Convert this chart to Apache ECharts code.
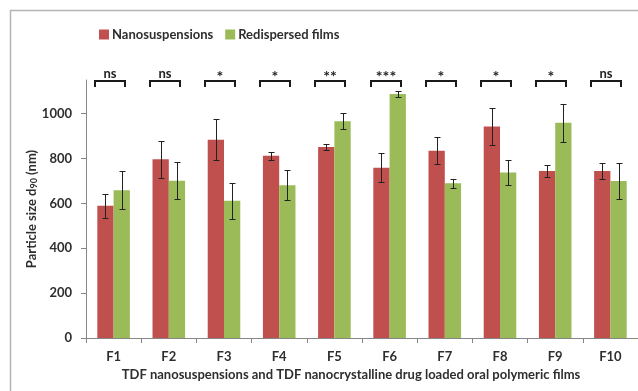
<!DOCTYPE html>
<html>
<head>
<meta charset="utf-8">
<script src="https://cdn.jsdelivr.net/npm/echarts@6/dist/echarts.min.js"></script>
<style>
  html, body { margin: 0; padding: 0; background: #fff; }
  #chart { width: 638px; height: 391px; }
</style>
</head>
<body>
<div id="chart"></div>
<script>
// Formulations
const categories = ['F1', 'F2', 'F3', 'F4', 'F5', 'F6', 'F7', 'F8', 'F9', 'F10'];
// Particle size d90 (nm), mean and SD
const nanoMean = [589, 797, 884, 812, 851, 759, 835, 943, 744, 744];
const nanoErr  = [52, 82, 90, 17, 13, 65, 60, 82, 26, 34];
const filmMean = [659, 701, 612, 681, 966, 1088, 690, 738, 960, 700];
const filmErr  = [85, 82, 80, 66, 35, 13, 20, 57, 85, 82];
// Significance between nanosuspension and redispersed film
const significance = ['ns', 'ns', '*', '*', '**', '***', '*', '*', '*', 'ns'];
// Value axis ticks
const yTicks = [0, 200, 400, 600, 800, 1000];
const yMax = 1150;

const FONT = 'Lato';
const TEXT = '#2e2e2e';
const RED = '#C0504D';
const GREEN = '#9BBB59';
const GAP = 0.41;

function errorBars(means, errs, side) {
  return {
    type: 'custom',
    silent: true,
    z: 5,
    data: means.map((m, i) => [i, m, errs[i]]),
    encode: { x: 0, y: 1 },
    renderItem: function (params, api) {
      const i = api.value(0);
      const band = api.size([1, 0])[0];
      const bw = band * (1 - GAP) / 2;
      const cx = Math.round(api.coord([i, 0])[0] + side * bw / 2) + 0.5;
      const top = Math.round(api.coord([i, api.value(1) + api.value(2)])[1]) + 0.5;
      const bot = Math.round(api.coord([i, api.value(1) - api.value(2)])[1]) + 0.5;
      const cap = 3;
      const st = { stroke: '#222', lineWidth: 1 };
      return {
        type: 'group',
        children: [
          { type: 'line', shape: { x1: cx, y1: top, x2: cx, y2: bot }, style: st },
          { type: 'line', shape: { x1: cx - cap, y1: top, x2: cx + cap, y2: top }, style: st },
          { type: 'line', shape: { x1: cx - cap, y1: bot, x2: cx + cap, y2: bot }, style: st }
        ]
      };
    }
  };
}

const chart = echarts.init(document.getElementById('chart'));
chart.setOption({
  animation: false,
  backgroundColor: '#fff',
  textStyle: { fontFamily: FONT },
  legend: {
    data: ['Nanosuspensions', 'Redispersed films'],
    left: 94,
    top: 23,
    itemWidth: 10,
    itemHeight: 10,
    itemGap: 12,
    icon: 'rect',
    textStyle: { fontFamily: FONT, fontWeight: 'bold', fontSize: 13, color: TEXT, padding: [0, 0, 0, -2] }
  },
  grid: { left: 86, right: -10, top: 80, bottom: 53, containLabel: false },
  xAxis: {
    type: 'category',
    data: categories,
    axisLine: { lineStyle: { color: '#868686', width: 1 } },
    axisTick: { show: true, length: 5, lineStyle: { color: '#868686' } },
    axisLabel: { fontFamily: FONT, fontWeight: 'bold', fontSize: 13, color: TEXT, margin: 12 }
  },
  yAxis: {
    type: 'value',
    min: 0,
    max: yMax,
    interval: 200,
    name: 'Particle size d{s|90} (nm)',
    nameLocation: 'middle',
    nameGap: 47,
    nameMoveOverlap: false,
    nameTextStyle: {
      fontFamily: FONT, fontWeight: 'bold', fontSize: 13, color: TEXT,
      rich: { s: { fontFamily: FONT, fontWeight: 'bold', fontSize: 9, color: TEXT, verticalAlign: 'bottom', padding: [6, 0, 0, 0] } }
    },
    axisLine: { show: true, lineStyle: { color: '#868686', width: 1 } },
    axisTick: { show: true, length: 5, lineStyle: { color: '#868686' }, customValues: yTicks },
    axisLabel: {
      fontFamily: FONT, fontWeight: 'bold', fontSize: 13, color: TEXT, margin: 14,
      customValues: yTicks, formatter: v => String(v)
    },
    splitLine: { show: false }
  },
  graphic: [
    {
      type: 'rect', silent: true, z: -1,
      shape: { x: 10.5, y: 10.5, width: 700, height: 500 },
      style: { fill: 'none', stroke: '#b4b4b4', lineWidth: 1.5 }
    },
    {
      type: 'text', silent: true,
      x: 351, y: 375,
      style: {
        text: 'TDF nanosuspensions and TDF nanocrystalline drug loaded oral polymeric films',
        fontFamily: FONT, fontWeight: 'bold', fontSize: 13, fill: TEXT,
        align: 'center', verticalAlign: 'middle'
      }
    }
  ],
  series: [
    {
      name: 'Nanosuspensions', type: 'bar', data: nanoMean,
      itemStyle: { color: RED }, barGap: '0%', barCategoryGap: (GAP * 100) + '%'
    },
    {
      name: 'Redispersed films', type: 'bar', data: filmMean,
      itemStyle: { color: GREEN }, barGap: '0%', barCategoryGap: (GAP * 100) + '%'
    },
    errorBars(nanoMean, nanoErr, -1),
    errorBars(filmMean, filmErr, 1),
    {
      // significance brackets above each pair
      type: 'custom',
      silent: true,
      z: 6,
      data: categories.map((c, i) => [i, yMax]),
      encode: { x: 0, y: 1 },
      renderItem: function (params, api) {
        const i = api.value(0);
        const p = api.coord([i, api.value(1)]);
        const cx = Math.round(p[0] - 4);
        const y = Math.round(p[1]) + 1;
        const half = 15;
        const drop = 6;
        const st = { stroke: '#1a1a1a', lineWidth: 2, fill: 'none' };
        const label = significance[params.dataIndex];
        const star = label.indexOf('*') >= 0;
        return {
          type: 'group',
          children: [
            { type: 'polyline', shape: { points: [[cx - half, y + drop], [cx - half, y], [cx + half, y], [cx + half, y + drop]] }, style: st },
            {
              type: 'text',
              x: cx, y: star ? y + 4 : y - 1,
              style: {
                text: label, fontFamily: FONT, fontWeight: 'bold',
                fontSize: star ? 16 : 13, fill: '#222',
                align: 'center', verticalAlign: 'bottom'
              }
            }
          ]
        };
      }
    }
  ]
});
</script>
</body>
</html>
